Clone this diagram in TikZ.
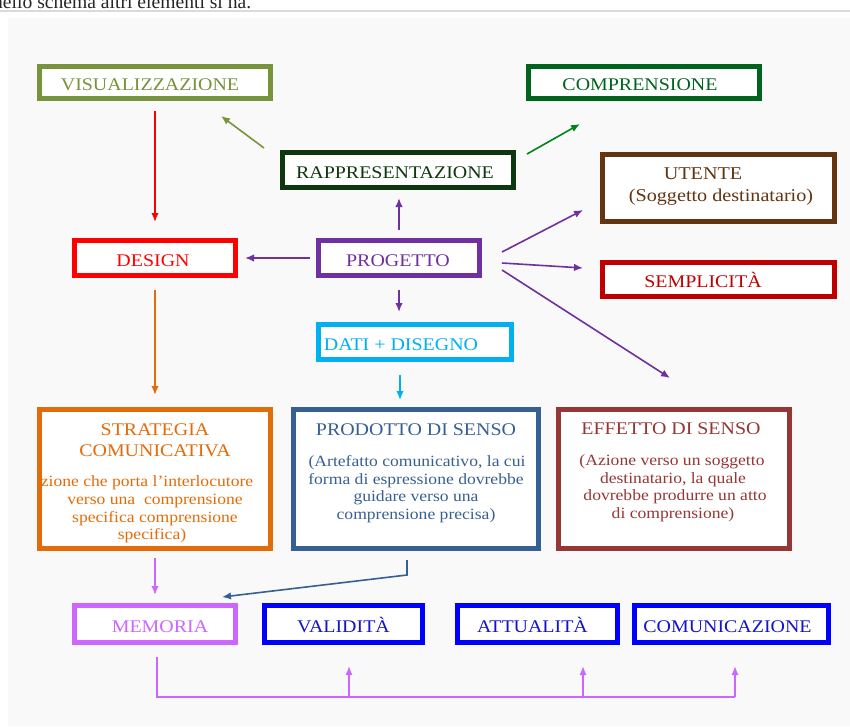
\documentclass[tikz,border=0pt]{standalone}
\usepackage{fontspec}
\setmainfont[FakeStretch=1.12]{Liberation Serif}
\newfontfamily\plaintimes{Liberation Serif}
\usetikzlibrary{arrows.meta,calc}
\definecolor{panel}{RGB}{249,249,249}
\definecolor{rulegray}{RGB}{218,218,218}
\definecolor{oliv}{RGB}{119,147,60}
\definecolor{compg}{RGB}{0,100,30}
\definecolor{rappg}{RGB}{15,55,15}
\definecolor{brwn}{RGB}{99,52,16}
\definecolor{redd}{RGB}{255,0,0}
\definecolor{purp}{RGB}{112,48,160}
\definecolor{dred}{RGB}{192,0,0}
\definecolor{lblue}{RGB}{0,176,240}
\definecolor{orng}{RGB}{227,108,10}
\definecolor{steel}{RGB}{55,96,146}
\definecolor{effr}{RGB}{149,55,53}
\definecolor{viol}{RGB}{204,102,255}
\definecolor{bblue}{RGB}{0,0,255}
\definecolor{tblue}{RGB}{20,20,200}
\newcommand\hfont{\fontsize{17.8}{21}\selectfont}
\newcommand\bfont{\fontsize{15.7}{17.7}\selectfont}
\newcommand\shifted[2]{\hspace*{#1pt}#2\hspace*{-#1pt}}
\begin{document}
\begin{tikzpicture}[x=1pt,y=-1pt,
  box/.style={draw=#1, line width=5pt, fill=white, inner sep=0pt, outer sep=2.5pt,
    text=#1, font=\hfont, text height=16.6pt, text depth=0pt},
  hline/.style={anchor=base, inner sep=0pt, font=\hfont, text=#1},
  bline/.style={anchor=base, inner sep=0pt, font=\bfont, text=#1},
  arr/.style={draw=#1, line width=1.6pt, -{Latex[length=9pt,width=7.5pt]}},
  thinarr/.style={draw=#1, line width=1.3pt, -{Latex[length=9pt,width=7pt]}}]
\useasboundingbox (0,0) rectangle (850,726);
\fill[white] (0,0) rectangle (850,726);
\fill[panel] (8,18) rectangle (850,726);
\draw[rulegray, line width=2pt] (0,11) -- (850,11);
\node[anchor=base west, inner sep=0pt, font=\plaintimes\fontsize{19.6}{22}\selectfont, text=black!85] (intro) at (-7,8) {nello schema altri elementi si ha.};

% top row
\node[box=oliv, minimum width=231pt, minimum height=32pt] (vis) at (155,82.5) {\shifted{-5}{VISUALIZZAZIONE}};
\node[box=compg, minimum width=231pt, minimum height=32pt] (comp) at (644,82.5) {\shifted{-4}{COMPRENSIONE}};
\node[box=rappg, minimum width=231pt, minimum height=35pt] (rapp) at (398,170) {\shifted{-3}{RAPPRESENTAZIONE}};
\node[box=brwn, minimum width=232pt, minimum height=67pt] (utente) at (718.5,188) {};
\node[hline=brwn, font=\fontsize{18}{21}\selectfont] (ut1) at (703,179.8) {UTENTE};
\node[hline=brwn, font=\fontsize{18}{21}\selectfont] (ut2) at (721,201) {(Soggetto destinatario)};

% middle row
\node[box=redd, minimum width=161pt, minimum height=35pt] (design) at (155,258) {\shifted{-2}{DESIGN}};
\node[box=purp, minimum width=161pt, minimum height=35pt] (prog) at (399,258) {\shifted{-1}{PROGETTO}};
\node[box=dred, minimum width=232pt, minimum height=34pt] (sempl) at (718.5,279.5) {\shifted{-15.5}{SEMPLICIT\`A}};
\node[box=lblue, minimum width=193pt, minimum height=35pt] (dati) at (415,342) {\shifted{-14}{DATI + DISEGNO}};

% big boxes
\node[box=orng, minimum width=231pt, minimum height=139pt] (strat) at (155,479) {};
\node[hline=orng] (st1) at (155,435.8) {STRATEGIA};
\node[hline=orng] (st2) at (155,456.8) {COMUNICATIVA};
\node[bline=orng] (sb1) at (147,486) {zione che porta l'interlocutore};
\node[bline=orng] (sb2) at (155,504) {verso una\ \ comprensione};
\node[bline=orng] (sb3) at (155,522) {specifica comprensione};
\node[bline=orng] (sb4) at (152,539.5) {specifica)};

\node[box=steel, minimum width=245pt, minimum height=139pt] (prod) at (416,479) {};
\node[hline=steel] (pt1) at (416,435.8) {PRODOTTO DI SENSO};
\node[bline=steel] (pb1) at (417,466.5) {(Artefatto comunicativo, la cui};
\node[bline=steel] (pb2) at (416,484.2) {forma di espressione dovrebbe};
\node[bline=steel] (pb3) at (416,501.9) {guidare verso una};
\node[bline=steel] (pb4) at (416,519.6) {comprensione precisa)};

\node[box=effr, minimum width=231pt, minimum height=139pt] (eff) at (674,479) {};
\node[hline=effr] (et1) at (671,434.8) {EFFETTO DI SENSO};
\node[bline=effr] (eb1) at (672,465.5) {(Azione verso un soggetto};
\node[bline=effr] (eb2) at (673,483.2) {destinatario, la quale};
\node[bline=effr] (eb3) at (675,500.9) {dovrebbe produrre un atto};
\node[bline=effr] (eb4) at (673,518.6) {di comprensione)};

% bottom row
\node[box=viol, minimum width=161pt, minimum height=37pt] (mem) at (155,624) {\shifted{5}{MEMORIA}};
\node[box=bblue, text=tblue, minimum width=158pt, minimum height=37pt] (val) at (343.5,624) {VALIDIT\`A};
\node[box=bblue, text=tblue, minimum width=160pt, minimum height=37pt] (att) at (537.5,624) {\shifted{-5}{ATTUALIT\`A}};
\node[box=bblue, text=tblue, minimum width=194pt, minimum height=37pt] (comu) at (731.5,624) {\shifted{-4}{COMUNICAZIONE}};

% connectors
\draw[arr=redd, shorten <=10pt, shorten >=16pt] (vis.south) -- (design.north);
\draw[arr=oliv] ($(rapp.north west)+(-16,-2)$) -- ($(vis.south east)+(-52,15)$);
\draw[arr=compg!80!green] ($(rapp.north east)+(11,4)$) -- ($(comp.south west)+(54,23)$);
\draw[arr=purp, shorten <=8pt, shorten >=8pt] (prog.north) -- (prog.north |- rapp.south);
\draw[arr=purp, shorten <=6pt, shorten >=7pt] (prog.west) -- (design.east);
\draw[arr=purp] ($(prog.east)+(20,-6)$) -- ($(utente.south west)+(-17,-14)$);
\draw[arr=purp] ($(prog.east)+(20,5)$) -- ($(sempl.west)+(-17,-11.5)$);
\draw[arr=purp] ($(prog.east)+(20,12)$) -- ($(eff.north)+(-4,-29)$);
\draw[arr=purp, shorten <=12pt, shorten >=10pt] (prog.south) -- (prog.south |- dati.north);
\draw[arr=orng, shorten <=12pt, shorten >=12pt] (design.south) -- (strat.north);
\draw[arr=lblue] ($(dati.south)+(-15,13)$) -- ($(prod.north)+(-16,-7)$);
\draw[arr=viol, shorten <=7pt, shorten >=8pt] (strat.south) -- (mem.north);
\draw[arr=steel] ($(prod.south)+(-9,9)$) -- ++(0,15) -- ($(mem.north east)+(-16,-6)$);

\coordinate (bl) at ($(mem.south)+(2,52)$);
\coordinate (t1) at ($(val.south)+(5.5,21)$);
\coordinate (t2) at ($(att.south)+(45.5,21)$);
\coordinate (t3) at ($(comu.south)+(3.5,21)$);
\draw[viol, line width=1.3pt] ($(mem.south)+(2,12)$) -- (bl) -- (bl -| t3);
\draw[thinarr=viol] (bl -| t1) -- (t1);
\draw[thinarr=viol] (bl -| t2) -- (t2);
\draw[thinarr=viol] (bl -| t3) -- (t3);
\end{tikzpicture}
\end{document}
